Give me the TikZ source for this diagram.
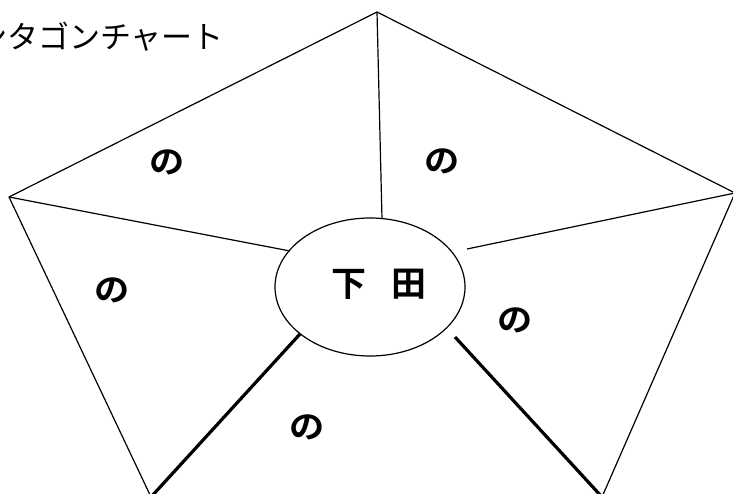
\documentclass[tikz,border=0pt]{standalone}
\usepackage{fontspec}
\usetikzlibrary{shapes.geometric}
\newfontfamily\cjkb{Noto Sans CJK JP Bold}
\newfontfamily\cjkt{Noto Sans CJK JP}
\begin{document}
\begin{tikzpicture}[x=1pt,y=-1pt,
  edge/.style={line width=1.2pt},
  thick spoke/.style={line width=3.2pt},
  nolabel/.style={font=\cjkb\fontsize{32}{32}\selectfont, inner sep=0pt, xscale=1.1},
  title/.style={font=\cjkt\fontsize{31}{31}\selectfont, inner sep=0pt, anchor=east}]
\useasboundingbox (0,0) rectangle (733,494);
\coordinate (T) at (377,12);
\coordinate (L) at (9,197);
\coordinate (R) at (735,193);
\coordinate (BL) at (151,497);
\coordinate (BR) at (602,497);
\node[draw, line width=1.2pt, ellipse, minimum width=190, minimum height=138, inner sep=0pt] (C) at (370,287) {};
\node[font=\cjkb\fontsize{35}{35}\selectfont, inner sep=0pt] (name) at (379,284) {下\hspace{0.7em}田};
\draw[edge] (L) -- (T) -- (R) -- (BR);
\draw[edge] (L) -- (BL);
\draw[edge] (T) -- (382,219);
\draw[edge] (L) -- (290,251);
\draw[edge] (R) -- (467,249);
\draw[thick spoke] (BL) -- (300,334);
\draw[thick spoke] (BR) -- (455,337);
\node[nolabel] (n1) at (167,162) {の};
\node[nolabel] (n2) at (442,161) {の};
\node[nolabel] (n3) at (112,290) {の};
\node[nolabel] (n4) at (515,320) {の};
\node[nolabel] (n5) at (307,427) {の};
\node[title] (t) at (224,37) {ペンタゴンチャート};
\end{tikzpicture}
\end{document}
